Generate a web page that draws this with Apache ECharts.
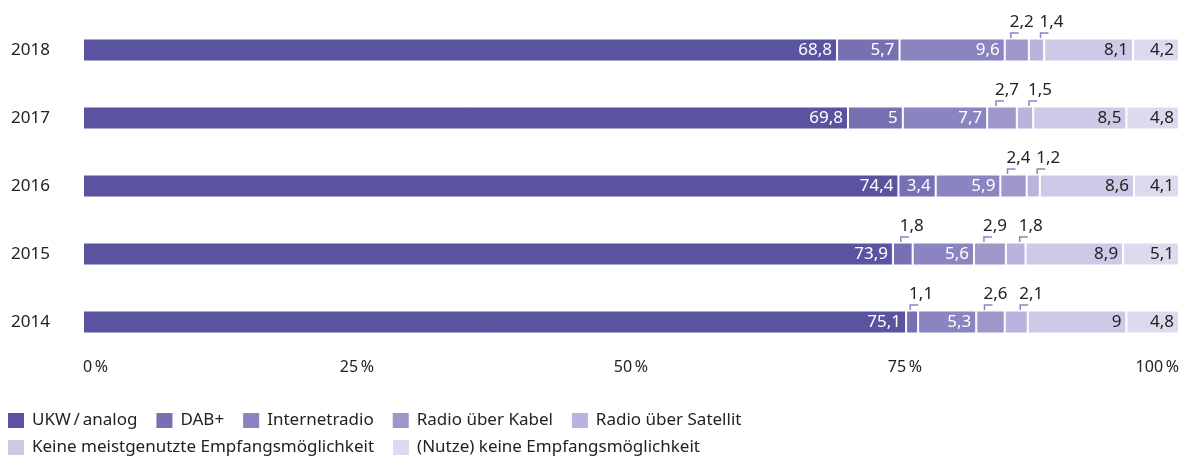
<!DOCTYPE html>
<html><head><meta charset="utf-8">
<script src="https://cdn.jsdelivr.net/npm/echarts@6/dist/echarts.min.js"></script>
<style>html,body{margin:0;padding:0;background:#fff}#c{width:1186px;height:458px}</style>
</head><body><div id="c"></div>
<script>
const years = ['2018', '2017', '2016', '2015', '2014'];
const seriesNames = ['UKW\u2009/\u2009analog', 'DAB+', 'Internetradio', 'Radio über Kabel', 'Radio über Satellit', 'Keine meistgenutzte Empfangsmöglichkeit', '(Nutze) keine Empfangsmöglichkeit'];
const ukw = [68.8, 69.8, 74.4, 73.9, 75.1];
const dab = [5.7, 5, 3.4, 1.8, 1.1];
const internet = [9.6, 7.7, 5.9, 5.6, 5.3];
const kabel = [2.2, 2.7, 2.4, 2.9, 2.6];
const satellit = [1.4, 1.5, 1.2, 1.8, 2.1];
const keineMeist = [8.1, 8.5, 8.6, 8.9, 9];
const keine = [4.2, 4.8, 4.1, 5.1, 4.8];
const xTicks = [0, 25, 50, 75, 100];

const values = [ukw, dab, internet, kabel, satellit, keineMeist, keine];
const colors = ['#5a54a0', '#7771b4', '#8a84c0', '#9d97ca', '#b9b4dd', '#cdc9e6', '#dddaee'];
const FONT = "'Noto Sans','Open Sans',sans-serif";
const fmt = v => String(v).replace('.', ',');
const SMALL = 3;
const BARW = 23;
const FS = 17;

const barSeries = values.map((arr, s) => ({
  name: seriesNames[s],
  type: 'bar',
  stack: 'all',
  barWidth: BARW,
  itemStyle: { color: colors[s], borderColor: '#fff', borderWidth: 1 },
  label: {
    show: true,
    position: 'insideRight',
    distance: 5,
    fontFamily: FONT,
    fontSize: FS,
    color: s >= 5 ? '#222' : '#fff',
    formatter: p => (p.value < SMALL ? '' : fmt(p.value))
  },
  data: arr
}));

// outside labels with bracket leader lines for small segments
const smallData = [];
years.forEach((y, i) => {
  let cum = 0;
  values.forEach((arr, s) => {
    if (arr[i] < SMALL) smallData.push([cum, arr[i], i, s]);
    cum += arr[i];
  });
});
const shiftBySeries = { 1: -2, 3: -6, 4: 4 };

const customSeries = {
  type: 'custom',
  silent: true,
  z: 5,
  renderItem: (params, api) => {
    const start = api.value(0), v = api.value(1), cat = api.value(2), s = api.value(3);
    const mid = api.coord([start + v / 2, cat]);
    const top = mid[1] - 11;
    const x0 = mid[0] + (shiftBySeries[s] || 0);
    return {
      type: 'group',
      children: [
        { type: 'polyline', shape: { points: [[x0, top - 1], [x0, top - 6], [x0 + 8, top - 6]] },
          style: { stroke: '#8a84c0', lineWidth: 1.5, fill: null } },
        { type: 'text', style: { x: x0 - 1, y: top - 8, text: fmt(v), fontFamily: FONT, fontSize: FS,
          fill: '#222', textAlign: 'left', textVerticalAlign: 'bottom' } }
      ]
    };
  },
  encode: { x: 0, y: 2 },
  data: smallData
};

const legendBase = {
  left: 8, padding: 0, itemWidth: 16, itemHeight: 15, itemGap: 19, icon: 'rect',
  itemStyle: { borderWidth: 0 },
  textStyle: { fontSize: FS, color: '#222', fontFamily: FONT, padding: [0, 0, 0, 3] }
};

const chart = echarts.init(document.getElementById('c'), null, { renderer: 'canvas' });
chart.setOption({
  animation: false,
  textStyle: { fontFamily: FONT },
  grid: { left: 83, right: 7, top: 16, bottom: 102, containLabel: false },
  xAxis: {
    type: 'value', min: xTicks[0], max: xTicks[xTicks.length - 1], interval: 25,
    axisLine: { show: false }, axisTick: { show: false }, splitLine: { show: false },
    axisLabel: { formatter: v => v + '\u2009%', fontSize: 16, color: '#222', margin: 3,
      alignMinLabel: 'left', alignMaxLabel: 'right', fontFamily: FONT }
  },
  yAxis: {
    type: 'category', data: years, inverse: true,
    axisLine: { show: false }, axisTick: { show: false },
    axisLabel: { fontSize: FS, color: '#222', margin: 33, fontFamily: FONT }
  },
  legend: [
    Object.assign({}, legendBase, { top: 412, data: seriesNames.slice(0, 5) }),
    Object.assign({}, legendBase, { top: 439, data: seriesNames.slice(5) })
  ],
  series: [...barSeries, customSeries]
});
</script></body></html>
